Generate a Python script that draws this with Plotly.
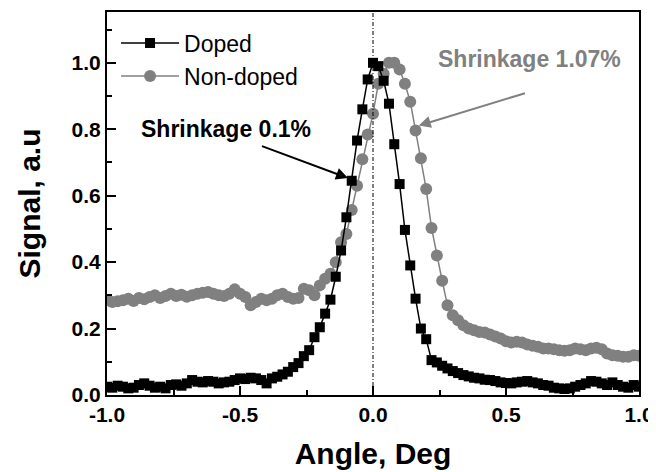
import plotly.graph_objects as go

angle = [round(-1 + 0.02 * i, 2) for i in range(101)]

doped = [
    0.025, 0.022, 0.028, 0.025, 0.020, 0.022, 0.030, 0.035, 0.028, 0.022,
    0.025, 0.020, 0.030, 0.032, 0.028, 0.035, 0.045, 0.040, 0.038, 0.042,
    0.040, 0.035, 0.038, 0.040, 0.045, 0.050, 0.048, 0.052, 0.050, 0.045,
    0.035, 0.050, 0.055,
    0.062, 0.070, 0.084, 0.096, 0.117, 0.135, 0.174, 0.204, 0.245, 0.287,
    0.356, 0.435, 0.535, 0.645, 0.766, 0.860, 0.950, 1.000, 0.990, 0.946,
    0.877, 0.755, 0.635, 0.497, 0.390, 0.290, 0.200, 0.168, 0.105, 0.098,
    0.088, 0.080, 0.072, 0.066, 0.060, 0.056, 0.052, 0.050, 0.046, 0.045,
    0.042, 0.038, 0.036, 0.035, 0.038, 0.040, 0.042, 0.038, 0.035, 0.030,
    0.028, 0.022, 0.020, 0.018, 0.020, 0.025, 0.030, 0.035, 0.042, 0.040,
    0.035, 0.030, 0.038, 0.030, 0.025, 0.022, 0.030, 0.025,
]

non_doped = [
    0.285, 0.280, 0.282, 0.285, 0.290, 0.283, 0.292, 0.288, 0.295, 0.300,
    0.292, 0.298, 0.305, 0.298, 0.302, 0.296, 0.300, 0.305, 0.308, 0.310,
    0.305, 0.300, 0.298, 0.305, 0.318, 0.305, 0.295, 0.270, 0.280, 0.290,
    0.285, 0.290, 0.300,
    0.305, 0.295, 0.290, 0.292, 0.320, 0.315, 0.300, 0.330, 0.350, 0.365,
    0.400, 0.460, 0.485, 0.557, 0.630, 0.710, 0.784, 0.847, 0.937, 0.967,
    1.000, 1.000, 0.980, 0.937, 0.883, 0.796, 0.713, 0.620, 0.503, 0.420,
    0.344, 0.270, 0.240, 0.225, 0.210, 0.200, 0.195, 0.190, 0.188, 0.182,
    0.176, 0.170, 0.162, 0.158, 0.160, 0.158, 0.152, 0.148, 0.145, 0.140,
    0.140, 0.138, 0.135, 0.133, 0.135, 0.140, 0.138, 0.135, 0.140, 0.142,
    0.138, 0.125, 0.120, 0.118, 0.115, 0.115, 0.120, 0.118,
]

assert len(doped) == len(angle) == len(non_doped)

x_ticks = [-1.0, -0.5, 0.0, 0.5, 1.0]
x_tick_labels = ["-1.0", "-0.5", "0.0", "0.5", "1.0"]
y_ticks = [0.0, 0.2, 0.4, 0.6, 0.8, 1.0]
y_tick_labels = ["0.0", "0.2", "0.4", "0.6", "0.8", "1.0"]

GREY = "#808080"
FONT = "Liberation Sans, Arial, sans-serif"

fig = go.Figure()
fig.add_trace(go.Scatter(
    x=angle, y=non_doped, mode="lines+markers", name="Non-doped",
    line=dict(color=GREY, width=1.5),
    marker=dict(symbol="circle", size=12, color=GREY),
))
fig.add_trace(go.Scatter(
    x=angle, y=doped, mode="lines+markers", name="Doped",
    line=dict(color="black", width=1.5),
    marker=dict(symbol="square", size=10, color="black"),
))

fig.add_shape(type="line", x0=0, x1=0, y0=0, y1=1.153, xref="x", yref="y",
              line=dict(color="black", width=1, dash="4px,2px,1px,2px"))

fig.add_annotation(x=-0.094, y=0.653, ax=-0.423, ay=0.751, xref="x", yref="y",
                   axref="x", ayref="y", showarrow=True, arrowhead=2,
                   arrowsize=1.2, arrowwidth=2, arrowcolor="black", text="")
fig.add_annotation(x=-0.554, y=0.80, xref="x", yref="y", showarrow=False,
                   text="<b>Shrinkage 0.1%</b>",
                   font=dict(family=FONT, size=23, color="black"))
fig.add_annotation(x=0.172, y=0.811, ax=0.577, ay=0.91, xref="x", yref="y",
                   axref="x", ayref="y", showarrow=True, arrowhead=2,
                   arrowsize=1.2, arrowwidth=2, arrowcolor=GREY, text="")
fig.add_annotation(x=0.588, y=1.012, xref="x", yref="y", showarrow=False,
                   text="<b>Shrinkage 1.07%</b>",
                   font=dict(family=FONT, size=23, color=GREY))

fig.update_layout(
    width=648, height=464,
    margin=dict(l=99, r=15, t=2, b=77),
    paper_bgcolor="white", plot_bgcolor="white",
    font=dict(family=FONT, color="black"),
    showlegend=True,
    legend=dict(x=0.017, y=0.975, xanchor="left", yanchor="top",
                bgcolor="rgba(0,0,0,0)", traceorder="reversed",
                font=dict(family=FONT, size=23, color="black"),
                itemwidth=58, tracegroupgap=0),
)
fig.update_xaxes(
    range=[-1.0, 1.0], tickvals=x_ticks, ticktext=x_tick_labels,
    ticks="inside", ticklen=9, tickwidth=2, tickcolor="black",
    minor=dict(ticks="inside", ticklen=5, tickwidth=1.5, dtick=0.25, tickcolor="black"),
    showline=True, linewidth=2, linecolor="black", mirror=True,
    showgrid=False, zeroline=False,
    tickfont=dict(family=FONT, size=21, color="black", weight="bold"),
    title=dict(text="<b>Angle, Deg</b>", font=dict(family=FONT, size=30, color="black"),
               standoff=18),
)
fig.update_yaxes(
    range=[0.0, 1.153], tickvals=y_ticks, ticktext=y_tick_labels,
    ticks="inside", ticklen=9, tickwidth=2, tickcolor="black",
    minor=dict(ticks="inside", ticklen=5, tickwidth=1.5, dtick=0.1, tickcolor="black"),
    showline=True, linewidth=2, linecolor="black", mirror=True,
    showgrid=False, zeroline=False,
    tickfont=dict(family=FONT, size=21, color="black", weight="bold"),
    title=dict(text="<b>Signal, a.u</b>", font=dict(family=FONT, size=30, color="black"),
               standoff=22),
)

fig.write_html("out.html")
